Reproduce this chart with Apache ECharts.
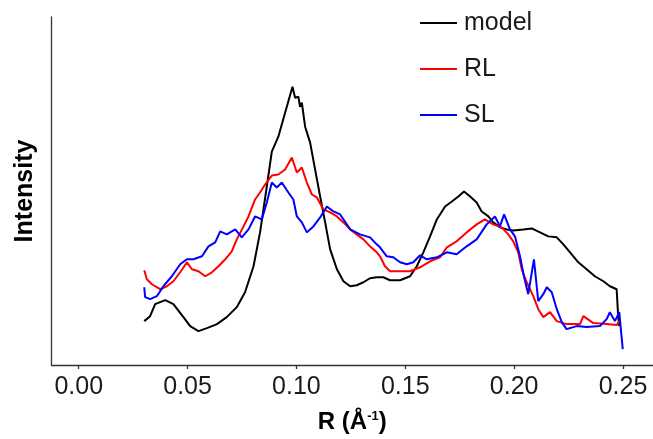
<!DOCTYPE html>
<html><head><meta charset="utf-8">
<script src="https://cdn.jsdelivr.net/npm/echarts@6/dist/echarts.min.js"></script>
<style>html,body{margin:0;padding:0;background:#fff}#c{width:653px;height:439px}</style>
</head><body><div id="c"></div>
<script>
const tickValues = [0, 0.05, 0.10, 0.15, 0.20, 0.25];
const seriesNames = ['model', 'RL', 'SL'];
const seriesColors = ['#000000', '#ff0000', '#0000ff'];

const modelData = [[0.0301,44],[0.0328,49],[0.0351,61],[0.0397,65],[0.0435,61],[0.0481,48],[0.0512,39],[0.0550,34],[0.0589,37],[0.0635,41],[0.0680,48],[0.0726,58],[0.0764,73],[0.0803,99],[0.0833,133],[0.0864,179],[0.0887,214],[0.0917,229],[0.0948,253],[0.0982,279],[0.0994,268],[0.1009,269],[0.1017,259],[0.1025,263],[0.1040,239],[0.1063,223],[0.1086,196],[0.1109,169],[0.1132,143],[0.1155,116],[0.1186,96],[0.1216,84],[0.1247,79],[0.1277,80],[0.1308,83],[0.1338,87],[0.1369,88],[0.1399,88],[0.1430,85],[0.1476,85],[0.1522,89],[0.1553,99],[0.1583,113],[0.1614,129],[0.1645,146],[0.1683,159],[0.1714,164],[0.1744,169],[0.1770,174],[0.1798,169],[0.1828,163],[0.1851,154],[0.1882,149],[0.1904,143],[0.1935,138],[0.1966,136],[0.1996,135],[0.2042,136],[0.2081,137],[0.2119,133],[0.2157,129],[0.2196,128],[0.2226,121],[0.2257,113],[0.2295,103],[0.2333,96],[0.2371,89],[0.2410,84],[0.2440,79],[0.2471,76],[0.2478,49],[0.2483,39]];

const rlData = [[0.0301,95],[0.0313,86],[0.0336,81],[0.0374,76],[0.0405,79],[0.0435,84],[0.0466,93],[0.0497,103],[0.0520,96],[0.0550,94],[0.0581,89],[0.0612,93],[0.0642,99],[0.0673,106],[0.0703,114],[0.0726,126],[0.0757,139],[0.0780,149],[0.0810,166],[0.0833,173],[0.0856,181],[0.0887,190],[0.0917,191],[0.0948,196],[0.0979,208],[0.1002,193],[0.1025,198],[0.1048,183],[0.1071,171],[0.1094,168],[0.1124,156],[0.1155,153],[0.1186,149],[0.1216,143],[0.1247,136],[0.1277,131],[0.1308,126],[0.1338,119],[0.1369,113],[0.1384,109],[0.1407,99],[0.1430,94],[0.1476,94],[0.1522,94],[0.1568,98],[0.1614,104],[0.1660,108],[0.1691,118],[0.1736,124],[0.1782,133],[0.1828,141],[0.1866,146],[0.1904,141],[0.1943,138],[0.1973,131],[0.1996,124],[0.2019,113],[0.2035,96],[0.2058,83],[0.2088,69],[0.2111,56],[0.2134,48],[0.2165,53],[0.2196,44],[0.2241,41],[0.2303,41],[0.2318,49],[0.2364,42],[0.2425,41],[0.2471,40],[0.2483,44]];

const slData = [[0.0301,78],[0.0305,68],[0.0328,66],[0.0359,69],[0.0389,79],[0.0428,89],[0.0466,101],[0.0497,106],[0.0527,106],[0.0566,109],[0.0596,119],[0.0627,123],[0.0650,134],[0.0680,131],[0.0719,136],[0.0749,128],[0.0780,136],[0.0810,149],[0.0841,146],[0.0864,163],[0.0887,183],[0.0910,178],[0.0933,183],[0.0963,173],[0.0986,166],[0.1002,149],[0.1025,143],[0.1048,133],[0.1078,139],[0.1109,148],[0.1140,159],[0.1170,154],[0.1201,151],[0.1247,136],[0.1292,131],[0.1338,128],[0.1369,121],[0.1384,118],[0.1415,109],[0.1445,108],[0.1476,103],[0.1507,101],[0.1537,103],[0.1568,110],[0.1599,106],[0.1645,108],[0.1691,113],[0.1736,111],[0.1782,119],[0.1828,126],[0.1874,141],[0.1912,149],[0.1935,139],[0.1954,151],[0.1981,136],[0.2004,129],[0.2027,109],[0.2045,89],[0.2065,71],[0.2091,106],[0.2111,64],[0.2134,71],[0.2150,78],[0.2173,73],[0.2196,56],[0.2219,43],[0.2241,36],[0.2287,39],[0.2333,38],[0.2394,39],[0.2425,46],[0.2440,53],[0.2463,44],[0.2483,53],[0.2499,16]];

const allData = [modelData, rlData, slData];
const FONT = '"Liberation Sans", Arial, Helvetica, sans-serif';

const chart = echarts.init(document.getElementById('c'), null, {renderer: 'canvas'});
chart.setOption({
  animation: false,
  backgroundColor: '#ffffff',
  grid: {left: 51.5, right: 0, top: 17, bottom: 73, containLabel: false},
  legend: {
    orient: 'vertical', left: 415, top: 3,
    itemWidth: 37, itemHeight: 2, itemGap: 16,
    icon: 'rect',
    data: seriesNames,
    textStyle: {fontFamily: FONT, fontSize: 25, color: '#1a1a1a', lineHeight: 30, padding: [0, 0, 0, 2]}
  },
  xAxis: {
    type: 'value', min: -0.0125, max: 0.2638,
    name: 'R (Å{sup|-1})', nameLocation: 'middle', nameGap: 45,
    nameTextStyle: {fontFamily: FONT, fontSize: 24, fontWeight: 'bold', color: '#000',
      rich: {sup: {fontFamily: FONT, fontSize: 13, fontWeight: 'bold', color: '#000', verticalAlign: 'top', padding: [0, 0, 10, 0]}}},
    axisLine: {show: true, onZero: false, lineStyle: {color: '#333', width: 1.3}},
    axisTick: {show: true, length: 4, customValues: tickValues, lineStyle: {color: '#333', width: 1.3}},
    axisLabel: {show: true, margin: 10, customValues: tickValues, fontFamily: FONT, fontSize: 25, color: '#1a1a1a',
      formatter: v => v.toFixed(2)},
    splitLine: {show: false}
  },
  yAxis: {
    type: 'value', min: 0, max: 349,
    name: 'Intensity', nameLocation: 'middle', nameGap: 14,
    nameTextStyle: {fontFamily: FONT, fontSize: 25, fontWeight: 'bold', color: '#000'},
    axisLine: {show: true, onZero: false, lineStyle: {color: '#333', width: 1.3}},
    axisTick: {show: false}, axisLabel: {show: false}, splitLine: {show: false}
  },
  series: allData.map((d, i) => ({
    name: seriesNames[i], type: 'line', data: d, showSymbol: false, symbol: 'none',
    lineStyle: {color: seriesColors[i], width: 2}, itemStyle: {color: seriesColors[i]},
    z: 2 + i
  }))
});
</script></body></html>
